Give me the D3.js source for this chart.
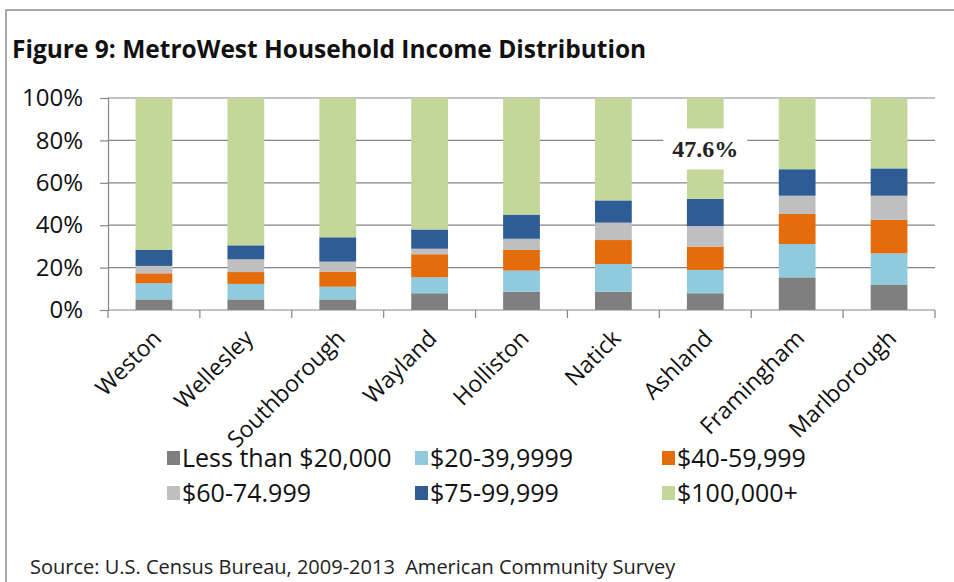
<!DOCTYPE html>
<html>
<head>
<meta charset="utf-8">
<script src="https://cdn.jsdelivr.net/npm/d3@7"></script>
<style>
  body { margin: 0; background: #fff; }
  svg { display: block; font-family: 'Open Sans', sans-serif; }
</style>
</head>
<body>
<div id="chart"></div>
<script>
const towns = ['Weston', 'Wellesley', 'Southborough', 'Wayland', 'Holliston', 'Natick', 'Ashland', 'Framingham', 'Marlborough'];
const brackets = ['Less than $20,000', '$20-39,9999', '$40-59,999', '$60-74.999', '$75-99,999', '$100,000+'];
const colors = ['#7f7f7f', '#8fcadd', '#e46c0a', '#bfbfbf', '#2e5c94', '#c4d79b'];

// percent of households per bracket, one array per bracket (same order as towns)
const under20 = [5.0, 5.0, 5.0, 7.9, 8.6, 8.6, 7.9, 15.4, 11.8];
const from20 = [7.6, 7.3, 6.0, 7.5, 10.0, 13.1, 11.0, 15.7, 14.9];
const from40 = [4.7, 5.6, 7.1, 10.9, 9.7, 11.3, 11.0, 14.2, 15.8];
const from60 = [3.5, 6.0, 4.7, 2.6, 5.3, 8.2, 9.7, 8.6, 11.4];
const from75 = [7.5, 6.6, 11.5, 9.1, 11.4, 10.5, 12.8, 12.5, 12.9];
const over100 = [71.7, 69.5, 65.7, 62.0, 55.0, 48.3, 47.6, 33.6, 33.2];
const yTicks = [0, 20, 40, 60, 80, 100];
const labelTown = 'Ashland';

const series = [under20, from20, from40, from60, from75, over100];

const width = 954, height = 582;
const margin = { top: 98, right: 19, bottom: 272, left: 108 };
const innerW = width - margin.left - margin.right;
const innerH = height - margin.top - margin.bottom;

const svg = d3.select('#chart').append('svg')
  .attr('width', width)
  .attr('height', height);

/* outer frame */
svg.append('path')
  .attr('d', `M6,${height} L6,10 L${width},10`)
  .attr('fill', 'none')
  .attr('stroke', '#8a8a8a')
  .attr('stroke-width', 1.5);

svg.append('text')
  .attr('x', 12)
  .attr('y', 58)
  .attr('font-size', 24.5)
  .attr('font-weight', 'bold')
  .attr('fill', '#111')
  .text('Figure 9: MetroWest Household Income Distribution');

const g = svg.append('g')
  .attr('transform', `translate(${margin.left},${margin.top})`);

const x = d3.scaleBand()
  .domain(towns)
  .range([0, innerW])
  .paddingInner(0.6)
  .paddingOuter(0.3);

const y = d3.scaleLinear()
  .domain([0, 100])
  .range([innerH, 0]);

/* gridlines */
g.append('g')
  .selectAll('line')
  .data(yTicks.filter((d) => d > 0))
  .join('line')
  .attr('x1', 0)
  .attr('x2', innerW)
  .attr('y1', (d) => y(d))
  .attr('y2', (d) => y(d))
  .attr('stroke', '#858585')
  .attr('stroke-width', 1.2);

/* stacked bars */
const rows = towns.map((t, i) => {
  const r = { town: t };
  brackets.forEach((b, j) => { r[b] = series[j][i]; });
  return r;
});
const stack = d3.stack().keys(brackets)(rows);

g.append('g')
  .selectAll('g')
  .data(stack)
  .join('g')
  .attr('fill', (d, i) => colors[i])
  .selectAll('rect')
  .data((d) => d)
  .join('rect')
  .attr('x', (d) => x(d.data.town))
  .attr('y', (d) => y(Math.min(d[1], 100)))
  .attr('width', x.bandwidth())
  .attr('height', (d) => y(d[0]) - y(Math.min(d[1], 100)));

/* y axis */
const yAxis = d3.axisLeft(y)
  .tickValues(yTicks)
  .tickSize(8)
  .tickPadding(17)
  .tickFormat((d) => d + '%');
g.append('g')
  .call(yAxis)
  .call((s) => s.select('.domain').attr('stroke', '#858585').attr('stroke-width', 1.2))
  .call((s) => s.selectAll('.tick line').attr('stroke', '#858585').attr('stroke-width', 1.2))
  .call((s) => s.selectAll('.tick text')
    .attr('font-size', 24)
    .attr('font-family', "'Open Sans', sans-serif")
    .attr('fill', '#111'));

/* x axis: baseline, boundary ticks, rotated labels */
const step = x.step();
const xAx = g.append('g').attr('transform', `translate(0,${innerH})`);
xAx.append('line')
  .attr('x1', 0).attr('x2', innerW)
  .attr('stroke', '#858585').attr('stroke-width', 1.2);
xAx.selectAll('.xtick')
  .data(d3.range(towns.length + 1))
  .join('line')
  .attr('class', 'xtick')
  .attr('x1', (i) => i * step)
  .attr('x2', (i) => i * step)
  .attr('y1', 0)
  .attr('y2', 8)
  .attr('stroke', '#858585')
  .attr('stroke-width', 1.2);
xAx.selectAll('.xlabel')
  .data(towns)
  .join('text')
  .attr('class', 'xlabel')
  .attr('transform', (d) => `translate(${x(d) + x.bandwidth() / 2 + 3},${24}) rotate(-45)`)
  .attr('text-anchor', 'end')
  .attr('dy', '0.35em')
  .attr('font-size', 23)
  .attr('fill', '#111')
  .text((d) => d);

/* value label on Ashland's top segment */
const li = towns.indexOf(labelTown);
const topSeg = stack[stack.length - 1][li];
const ly = y((topSeg[0] + topSeg[1]) / 2);
const lx = x(labelTown) + x.bandwidth() / 2;
g.append('rect')
  .attr('x', lx - 42)
  .attr('y', ly - 20)
  .attr('width', 84)
  .attr('height', 41)
  .attr('fill', '#fff');
g.append('text')
  .attr('x', lx)
  .attr('y', ly)
  .attr('dy', '0.35em')
  .attr('text-anchor', 'middle')
  .attr('font-family', "'Liberation Serif', serif")
  .attr('font-size', 24)
  .attr('font-weight', 'bold')
  .attr('fill', '#222')
  .text(over100[li].toFixed(1) + '%');

/* legend */
const legendX = [167, 415, 662];
const legendY = [458, 493];
const legend = svg.append('g')
  .selectAll('g')
  .data(brackets)
  .join('g')
  .attr('transform', (d, i) => `translate(${legendX[i % 3]},${legendY[Math.floor(i / 3)]})`);
legend.append('rect')
  .attr('x', 0)
  .attr('y', -7)
  .attr('width', 13)
  .attr('height', 14)
  .attr('fill', (d, i) => colors[i]);
legend.append('text')
  .attr('x', 15)
  .attr('dy', '0.35em')
  .attr('font-size', 25)
  .attr('fill', '#111')
  .text((d) => d);

svg.append('text')
  .attr('x', 30)
  .attr('y', 574)
  .attr('font-size', 20)
  .attr('fill', '#222')
  .style('white-space', 'pre')
  .text('Source: U.S. Census Bureau, 2009-2013  American Community Survey');
</script>
</body>
</html>
